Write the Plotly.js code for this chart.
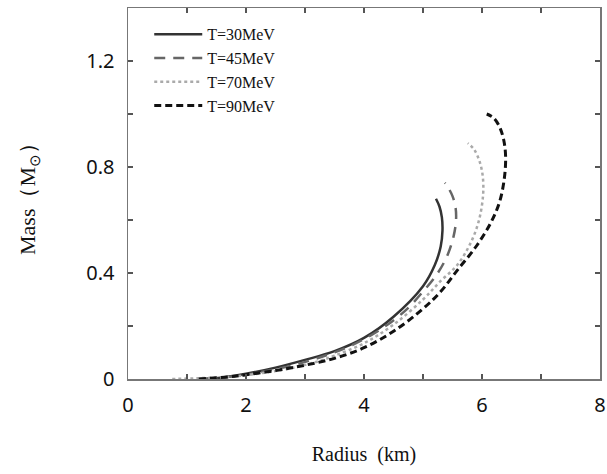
<!DOCTYPE html>
<html>
<head>
<meta charset="utf-8">
<script src="https://cdn.plot.ly/plotly-3.0.1.min.js"></script>
<style>html,body{margin:0;padding:0;background:#fff;}#chart{width:607px;height:474px;}</style>
</head>
<body>
<div id="chart"></div>
<script>
// Radius (km) and Mass (M_sun) for each temperature
const names = ["T=30MeV", "T=45MeV", "T=70MeV", "T=90MeV"];

const r30 = [1.2,1.6,2.0,2.5,3.0,3.5,4.0,4.5,5.0,5.2,5.3,5.33,5.32,5.28,5.22];
const m30 = [0,0.006,0.02,0.043,0.072,0.105,0.155,0.235,0.35,0.43,0.5,0.56,0.61,0.65,0.68];

const r45 = [1.3,1.8,2.3,2.8,3.3,3.8,4.3,4.7,5.0,5.25,5.42,5.52,5.56,5.55,5.5,5.42,5.37];
const m45 = [0,0.01,0.028,0.052,0.085,0.128,0.19,0.258,0.33,0.4,0.47,0.54,0.6,0.65,0.69,0.725,0.74];

const r70 = [0.75,1.2,1.7,2.2,2.7,3.2,3.5,4.0,4.5,5.0,5.3,5.58,5.8,5.95,6.02,6.01,5.96,5.87,5.76];
const m70 = [0,0.003,0.008,0.02,0.038,0.065,0.088,0.135,0.205,0.3,0.37,0.43,0.51,0.6,0.7,0.77,0.82,0.865,0.89];

const r90 = [1.2,1.7,2.0,2.5,3.0,3.5,4.0,4.5,5.0,5.3,5.58,5.9,6.15,6.3,6.38,6.4,6.37,6.3,6.2,6.08];
const m90 = [0,0.008,0.016,0.032,0.052,0.078,0.118,0.18,0.265,0.33,0.41,0.5,0.59,0.67,0.76,0.84,0.9,0.95,0.985,1.0];

const xTicks = [0, 2, 4, 6, 8];
const yTicks = [0, 0.4, 0.8, 1.2];
const yTickText = ["0", "0.4", "0.8", "1.2"];

const traces = [
  {x: r30, y: m30, name: names[0], mode: "lines", line: {color: "#333333", width: 2.5, dash: "solid", shape: "spline"}},
  {x: r45, y: m45, name: names[1], mode: "lines", line: {color: "#666666", width: 2.5, dash: "11px,8px", shape: "spline"}},
  {x: r70, y: m70, name: names[2], mode: "lines", line: {color: "#aaaaaa", width: 2.5, dash: "dot", shape: "spline"}},
  {x: r90, y: m90, name: names[3], mode: "lines", line: {color: "#111111", width: 3, dash: "7px,4px", shape: "spline"}}
];

const serif = "Liberation Serif, Times New Roman, serif";
const axisCommon = {
  showgrid: false, zeroline: false, showline: true, linecolor: "#777777", linewidth: 1.5,
  mirror: "allticks", ticks: "inside", ticklen: 5, tickcolor: "#555555", tickwidth: 1.2,
  tickfont: {family: "Noto Sans, sans-serif", size: 20, color: "#111111"}
};

const layout = {
  width: 607, height: 474,
  margin: {l: 128, r: 7, t: 8, b: 95},
  paper_bgcolor: "#ffffff", plot_bgcolor: "#ffffff",
  showlegend: true,
  legend: {
    x: 0.045, y: 0.975, xanchor: "left", yanchor: "top",
    bgcolor: "rgba(0,0,0,0)", borderwidth: 0,
    itemwidth: 48,
    font: {family: serif, size: 16, color: "#111111"},
    tracegroupgap: 0
  },
  xaxis: Object.assign({}, axisCommon, {
    range: [0, 8], tickmode: "array", tickvals: xTicks, ticktext: xTicks.map(String),
    ticklabelstandoff: 7,
    minor: {dtick: 1, ticks: "inside", ticklen: 5, tickcolor: "#555555", tickwidth: 1.2},
    title: {text: "Radius  (km)", standoff: 30, font: {family: serif, size: 20, color: "#111111"}}
  }),
  yaxis: Object.assign({}, axisCommon, {
    range: [0, 1.4], tickmode: "array", tickvals: yTicks, ticktext: yTickText,
    ticklabelstandoff: 8,
    minor: {dtick: 0.2, ticks: "inside", ticklen: 5, tickcolor: "#555555", tickwidth: 1.2},
    title: {text: "Mass（M<sub>⊙</sub>）", standoff: 44, font: {family: serif, size: 22, color: "#111111"}}
  })
};

Plotly.newPlot("chart", traces, layout, {displayModeBar: false, staticPlot: true});
</script>
</body>
</html>
